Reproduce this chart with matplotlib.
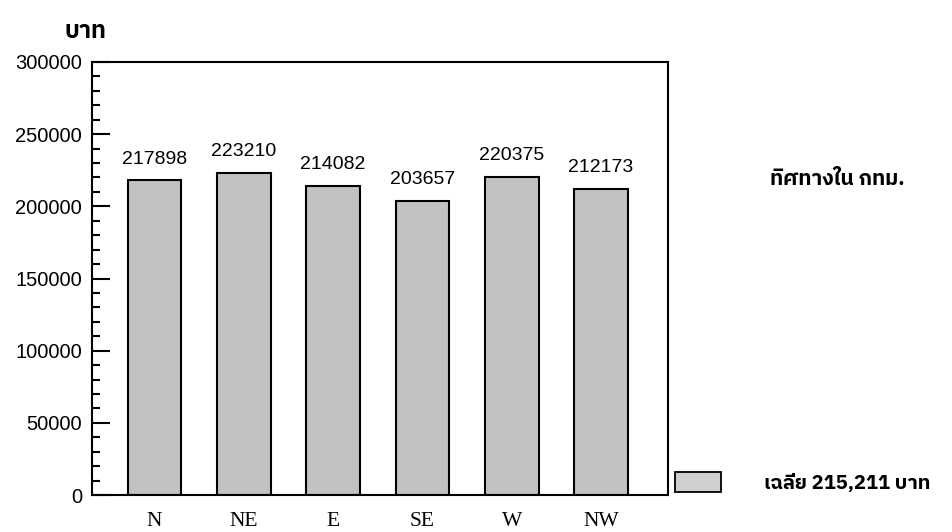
import matplotlib
matplotlib.use('Agg')
from matplotlib import pyplot as plt
from matplotlib import font_manager
from matplotlib.ft2font import FT2Font
from matplotlib.patches import Patch
from matplotlib.ticker import MultipleLocator

directions = ['N', 'NE', 'E', 'SE', 'W', 'NW']
prices = [217898, 223210, 214082, 203657, 220375, 212173]
average = 215211
unit = 'บาท'
group_title = 'ทิศทางใน กทม.'
legend_label = 'เฉลี่ย 215,211 บาท'


def thai_family():
	"""Finds an installed family that has Thai glyphs, DejaVu Sans otherwise."""
	found = []
	for f in font_manager.fontManager.ttflist:
		try:
			if 0x0E1A in FT2Font(f.fname).get_charmap():
				found.append(f.name)
		except Exception:
			pass
	for name in found:
		if 'Thai' in name:
			return name
	return found[0] if found else 'DejaVu Sans'


thai = [thai_family(), 'DejaVu Sans']
sans = ['Liberation Sans', 'DejaVu Sans']
serif = ['Liberation Serif', 'DejaVu Serif']

fig = plt.figure(figsize=(9.52, 5.32), dpi=100)
ax = fig.add_axes([0.0966, 0.0695, 0.6051, 0.814])

x = range(len(directions))
bars = ax.bar(x, prices, width=0.6, color='#c2c2c2', edgecolor='black', linewidth=1.5)
for rect, v in zip(bars, prices):
	ax.text(rect.get_x() + rect.get_width() / 2, v + 9000, str(v),
			ha='center', va='bottom', fontsize=14, family=sans)

ax.set_xlim(-0.7, 5.75)
ax.set_ylim(0, 300000)
ax.yaxis.set_major_locator(MultipleLocator(50000))
ax.yaxis.set_minor_locator(MultipleLocator(10000))
ax.tick_params(axis='y', which='major', direction='in', length=13, width=1.5, labelsize=14.5, pad=7)
ax.tick_params(axis='y', which='minor', direction='in', length=6, width=1.5)
ax.tick_params(axis='x', length=0, pad=12)
ax.set_xticks(list(x))
ax.set_xticklabels(directions, family=serif, fontsize=15.5)
for lab in ax.get_yticklabels():
	lab.set_family(sans)
for s in ax.spines.values():
	s.set_linewidth(1.5)

fig.text(0.068, 0.94, unit, family=thai, fontsize=17, fontweight='bold', va='center')
fig.text(0.88, 0.662, group_title, family=thai, fontsize=15, fontweight='bold',
		 ha='center', va='center')

handle = Patch(facecolor='#cfcfcf', edgecolor='black', linewidth=1.3)
fig.legend([handle], [legend_label], loc='lower left', bbox_to_anchor=(0.69, 0.04),
		   frameon=False, handlelength=2.3, handleheight=1.15, handletextpad=2.1,
		   prop={'family': thai, 'size': 14.5, 'weight': 'bold'})

fig.savefig('out.png', dpi=100, facecolor='white')
